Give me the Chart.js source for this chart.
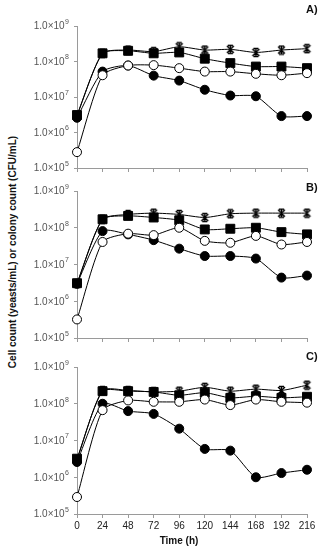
<!DOCTYPE html>
<html>
<head>
<meta charset="utf-8">
<script src="https://cdn.jsdelivr.net/npm/chart.js@4/dist/chart.umd.min.js"></script>
<style>
  body { margin: 0; background: #fff; width: 327px; height: 550px; overflow: hidden; font-family: 'Liberation Sans', Arial, sans-serif; }
  .panel { position: absolute; left: 20px; width: 307px; }
  .lbl { position: absolute; font-weight: bold; font-size: 11px; color: #111; }
  #ytitle { position: absolute; left: 12px; top: 252px; transform: translate(-50%, -50%) rotate(-90deg);
            white-space: nowrap; font-weight: bold; font-size: 10px; color: #111; }
  #xtitle { position: absolute; left: 179px; top: 540px; transform: translate(-50%, -50%);
            font-weight: bold; font-size: 10px; color: #111; }
</style>
</head>
<body>
<div class="panel" style="top:0;height:178px"><canvas id="cA"></canvas></div>
<div class="panel" style="top:170px;height:178px"><canvas id="cB"></canvas></div>
<div class="panel" style="top:345px;height:205px"><canvas id="cC"></canvas></div>
<div class="lbl" style="left:306px;top:3px">A)</div>
<div class="lbl" style="left:306px;top:181px">B)</div>
<div class="lbl" style="left:306px;top:350px">C)</div>
<div id="ytitle">Cell count (yeasts/mL) or colony count (CFU/mL)</div>
<div id="xtitle">Time (h)</div>
<script>
// ── DATA ────────────────────────────────────────────────────
const hours = [0, 24, 48, 72, 96, 120, 144, 168, 192, 216];
const yTicks = [1e5, 1e6, 1e7, 1e8, 1e9];
const yTickBase = '1.0×10';
const yTickExp = ['5', '6', '7', '8', '9'];

// panel A
const aStar   = [3.0e6, 1.7e8, 2.1e8, 1.9e8, 2.6e8, 2.1e8, 2.2e8, 1.8e8, 2.1e8, 2.3e8];
const aSquare = [3.1e6, 1.7e8, 2.0e8, 1.7e8, 1.8e8, 1.2e8, 9.0e7, 7.2e7, 7.2e7, 6.5e7];
const aOpen   = [2.8e5, 4.1e7, 7.7e7, 7.9e7, 6.5e7, 5.2e7, 5.2e7, 4.5e7, 4.1e7, 4.7e7];
const aFilled = [2.6e6, 5.2e7, 7.7e7, 4.0e7, 2.9e7, 1.6e7, 1.1e7, 1.05e7, 2.9e6, 2.9e6];

// panel B
const bStar   = [3.0e6, 1.7e8, 2.3e8, 2.5e8, 2.3e8, 1.9e8, 2.4e8, 2.5e8, 2.5e8, 2.5e8];
const bSquare = [3.1e6, 1.7e8, 2.1e8, 1.9e8, 1.6e8, 9.0e7, 9.4e7, 1.0e8, 7.6e7, 6.6e7];
const bOpen   = [3.2e5, 4.1e7, 6.9e7, 6.3e7, 1.0e8, 4.4e7, 3.9e7, 6.0e7, 3.5e7, 4.1e7];
const bFilled = [3.0e6, 8.1e7, 6.6e7, 4.6e7, 2.7e7, 1.7e7, 1.7e7, 1.45e7, 4.4e6, 5.0e6];

// panel C
const cStar   = [3.0e6, 2.3e8, 2.3e8, 2.1e8, 2.2e8, 2.8e8, 2.2e8, 2.5e8, 2.3e8, 3.2e8];
const cSquare = [3.2e6, 2.2e8, 2.2e8, 2.1e8, 1.7e8, 2.0e8, 1.45e8, 1.6e8, 1.45e8, 1.55e8];
const cOpen   = [2.9e5, 6.7e7, 1.23e8, 1.13e8, 1.13e8, 1.3e8, 9.2e7, 1.3e8, 1.13e8, 1.07e8];
const cFilled = [2.6e6, 1.0e8, 6.3e7, 5.3e7, 2.1e7, 5.9e6, 5.3e6, 1.0e6, 1.3e6, 1.6e6];

// ── HELPERS ─────────────────────────────────────────────────
const axisGray = '#9a9a9a';
const font = "'Liberation Sans', Arial, sans-serif";

// Excel-like star marker: an X with a vertical stroke and small caps
const starImg = document.createElement('canvas');
starImg.width = 11; starImg.height = 11;
(() => {
  const g = starImg.getContext('2d');
  g.strokeStyle = '#000'; g.lineWidth = 1.4;
  g.beginPath();
  g.moveTo(2, 2); g.lineTo(9, 9);
  g.moveTo(9, 2); g.lineTo(2, 9);
  g.moveTo(5.5, 1.5); g.lineTo(5.5, 9.5);
  g.moveTo(3, 1.5); g.lineTo(8, 1.5);
  g.moveTo(3, 9.5); g.lineTo(8, 9.5);
  g.stroke();
})();

// y tick labels with a real raised exponent
const expLabels = {
  id: 'expLabels',
  afterDraw(chart) {
    const sc = chart.scales.y, ctx = chart.ctx;
    const right = sc.right - 8;
    ctx.save();
    ctx.fillStyle = '#555';
    ctx.textBaseline = 'middle';
    yTicks.forEach((v, i) => {
      const y = sc.getPixelForValue(v);
      ctx.font = `7px ${font}`;
      const ew = ctx.measureText(yTickExp[i]).width;
      ctx.textAlign = 'left';
      ctx.fillText(yTickExp[i], right - ew, y - 4);
      ctx.font = `10px ${font}`;
      ctx.textAlign = 'right';
      ctx.fillText(yTickBase, right - ew - 0.5, y + 0.5);
    });
    ctx.restore();
  }
};

function ds(values, style, radius, fill, order) {
  return {
    data: values.map((v, i) => ({ x: hours[i], y: v })),
    borderColor: '#000', borderWidth: 1, tension: 0.22,
    pointStyle: style, pointRadius: radius,
    pointBackgroundColor: fill, pointBorderColor: '#000', pointBorderWidth: 1,
    clip: false, order
  };
}

function makePanel(id, s, padTop, xHeight, showX) {
  new Chart(document.getElementById(id), {
    type: 'line',
    data: {
      datasets: [
        ds(s[0], starImg, 5, '#000', 4),
        ds(s[1], 'rect', 6.3, '#000', 3),
        ds(s[3], 'circle', 4.5, '#000', 2),
        ds(s[2], 'circle', 4.5, '#fff', 1)
      ]
    },
    options: {
      responsive: true, maintainAspectRatio: false, animation: false,
      layout: { padding: { top: padTop, right: 20, left: 0, bottom: 0 } },
      plugins: { legend: { display: false }, tooltip: { enabled: false } },
      scales: {
        x: {
          type: 'linear', min: 0, max: 216,
          border: { color: axisGray },
          grid: { drawOnChartArea: false, color: axisGray, tickLength: 4 },
          ticks: { display: showX, stepSize: 24, color: '#222', padding: 2, font: { family: font, size: 10 } },
          afterFit: sc => { sc.height = xHeight; }
        },
        y: {
          type: 'logarithmic', min: 1e5, max: 1e9,
          border: { color: axisGray },
          grid: { drawOnChartArea: false, color: axisGray, tickLength: 3 },
          afterBuildTicks: sc => { sc.ticks = yTicks.map(v => ({ value: v })); },
          ticks: { display: false },
          afterFit: sc => { sc.width = 57; }
        }
      }
    },
    plugins: [expLabels]
  });
}

// ── RENDER ──────────────────────────────────────────────────
makePanel('cA', [aStar, aSquare, aOpen, aFilled], 26, 10, false);
makePanel('cB', [bStar, bSquare, bOpen, bFilled], 21, 10, false);
makePanel('cC', [cStar, cSquare, cOpen, cFilled], 22, 36, true);
</script>
</body>
</html>
